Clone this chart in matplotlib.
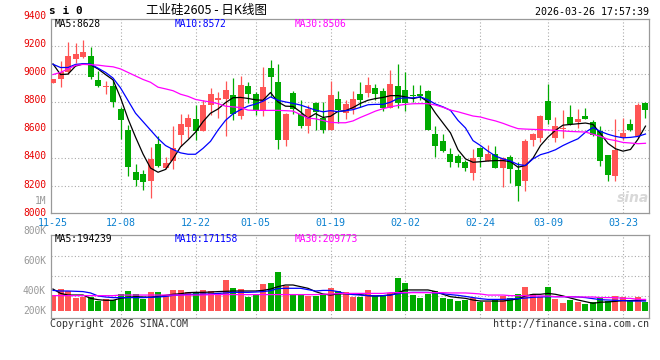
import matplotlib
matplotlib.use("Agg")
import matplotlib.pyplot as plt
import matplotlib.transforms as mtransforms
import numpy as np

# ---------------- data ----------------
dates = ["11-25", "11-26", "11-27", "11-28",
         "12-01", "12-02", "12-03", "12-04", "12-05", "12-08", "12-09", "12-10", "12-11", "12-12",
         "12-15", "12-16", "12-17", "12-18", "12-19", "12-22", "12-23", "12-24", "12-25", "12-26",
         "12-29", "12-30", "12-31",
         "01-05", "01-06", "01-07", "01-08", "01-09", "01-12", "01-13", "01-14", "01-15", "01-16",
         "01-19", "01-20", "01-21", "01-22", "01-23", "01-26", "01-27", "01-28", "01-29", "01-30",
         "02-02", "02-03", "02-04", "02-05", "02-06", "02-09", "02-10", "02-11", "02-12", "02-13",
         "02-24", "02-25", "02-26", "02-27",
         "03-02", "03-03", "03-04", "03-05", "03-06", "03-09", "03-10", "03-11", "03-12", "03-13",
         "03-16", "03-17", "03-18", "03-19", "03-20", "03-23", "03-24", "03-25", "03-26"]

tick_labels = ["11-25", "12-08", "12-22", "01-05", "01-19", "02-02", "02-24", "03-09", "03-23"]

opens = [8936, 8960, 9010, 9105, 9117, 9124, 8957, 8906, 8910, 8750,
         8598, 8305, 8290, 8236, 8502, 8329, 8379, 8564, 8621, 8681,
         8593, 8776, 8812, 8824, 8848, 8698, 8912, 8855, 8733, 9045,
         8941, 8531, 8867, 8717, 8626, 8793, 8688, 8598, 8819, 8722,
         8752, 8855, 8864, 8900, 8876, 8757, 8912, 8883, 8852, 8855,
         8879, 8569, 8519, 8431, 8417, 8376, 8293, 8476, 8379, 8433,
         8331, 8412, 8319, 8236, 8526, 8543, 8810, 8543, 8605, 8690,
         8655, 8703, 8660, 8595, 8425, 8270, 8553, 8640, 8558, 8790]
highs = [8966, 9090, 9226, 9220, 9243, 9190, 9021, 8950, 8957, 8762,
         8638, 8360, 8317, 8479, 8557, 8405, 8631, 8717, 8717, 8776,
         8812, 8902, 8869, 8948, 8967, 8983, 8943, 8870, 9050, 9098,
         9069, 8722, 8876, 8812, 8776, 8800, 8800, 8948, 8876, 8812,
         8876, 8943, 8979, 8931, 8900, 9026, 9069, 9014, 8920, 8924,
         8886, 8626, 8569, 8471, 8430, 8385, 8462, 8480, 8495, 8490,
         8412, 8420, 8376, 8538, 8580, 8710, 8925, 8690, 8745, 8775,
         8750, 8760, 8669, 8631, 8425, 8681, 8686, 8677, 8791, 8798]
lows = [8934, 8903, 9000, 9076, 9112, 8962, 8905, 8855, 8767, 8538,
        8271, 8205, 8176, 8114, 8336, 8325, 8326, 8490, 8543, 8526,
        8590, 8710, 8686, 8555, 8674, 8679, 8793, 8710, 8698, 8836,
        8467, 8490, 8717, 8614, 8579, 8602, 8579, 8598, 8650, 8681,
        8717, 8764, 8836, 8812, 8733, 8757, 8760, 8733, 8800, 8817,
        8598, 8410, 8445, 8340, 8336, 8312, 8248, 8336, 8379, 8329,
        8193, 8221, 8098, 8164, 8490, 8514, 8640, 8514, 8545, 8633,
        8615, 8676, 8560, 8347, 8236, 8240, 8526, 8590, 8544, 8683]
closes = [8962, 9015, 9124, 9140, 9152, 8974, 8917, 8912, 8802, 8671,
          8336, 8243, 8229, 8391, 8343, 8367, 8469, 8645, 8688, 8593,
          8781, 8860, 8831, 8883, 8712, 8919, 8855, 8740, 8907, 8979,
          8531, 8717, 8748, 8626, 8752, 8729, 8598, 8848, 8740, 8783,
          8824, 8812, 8919, 8855, 8757, 8926, 8793, 8793, 8845, 8843,
          8598, 8490, 8450, 8371, 8364, 8329, 8400, 8407, 8433, 8329,
          8400, 8321, 8200, 8519, 8569, 8698, 8670, 8630, 8617, 8645,
          8680, 8680, 8563, 8378, 8283, 8460, 8580, 8604, 8775, 8740]

ma5 = [9070, 8995, 8998, 9055, 9070, 9065, 9035, 8995, 8957, 8830,
       8680, 8550, 8430, 8330, 8300, 8320, 8395, 8480, 8530, 8585,
       8660, 8720, 8750, 8795, 8830, 8832, 8825, 8815, 8812, 8867,
       8800, 8770, 8768, 8729, 8685, 8717, 8690, 8698, 8733, 8738,
       8760, 8790, 8812, 8824, 8832, 8845, 8845, 8836, 8824, 8836,
       8800, 8720, 8650, 8580, 8460, 8395, 8371, 8375, 8380, 8383,
       8383, 8375, 8336, 8348, 8400, 8490, 8550, 8598, 8635, 8640,
       8645, 8650, 8640, 8575, 8505, 8467, 8450, 8462, 8535, 8628]
ma10 = [9068, 9045, 9045, 9067, 9072, 9070, 9040, 9010, 8970, 8900,
        8810, 8720, 8660, 8600, 8540, 8490, 8462, 8438, 8428, 8428,
        8470, 8520, 8600, 8669, 8715, 8745, 8770, 8785, 8805, 8836,
        8812, 8800, 8790, 8778, 8760, 8742, 8730, 8738, 8731, 8738,
        8745, 8762, 8780, 8783, 8783, 8798, 8825, 8829, 8829, 8836,
        8815, 8785, 8765, 8740, 8669, 8615, 8525, 8490, 8450, 8415,
        8395, 8380, 8355, 8348, 8395, 8425, 8440, 8460, 8490, 8515,
        8538, 8585, 8618, 8590, 8570, 8555, 8545, 8548, 8555, 8572]
ma30 = [8995, 9010, 9035, 9060, 9067, 9065, 9062, 9055, 9050, 9035,
        9010, 8985, 8960, 8940, 8905, 8893, 8880, 8855, 8840, 8818,
        8808, 8800, 8788, 8770, 8765, 8760, 8742, 8740, 8740, 8740,
        8740, 8738, 8735, 8710, 8685, 8680, 8668, 8655, 8652, 8652,
        8665, 8690, 8712, 8735, 8752, 8765, 8775, 8783, 8787, 8788,
        8788, 8778, 8762, 8742, 8730, 8715, 8700, 8693, 8678, 8665,
        8648, 8628, 8610, 8607, 8605, 8603, 8601, 8598, 8594, 8590,
        8588, 8586, 8570, 8555, 8535, 8525, 8512, 8508, 8503, 8506]

# volume, in thousands (as on the volume axis)
volume = [371, 411, 400, 353, 358, 358, 331, 345, 336, 376,
          398, 376, 342, 391, 391, 365, 405, 405, 391, 391,
          405, 398, 382, 471, 420, 411, 358, 376, 445, 451,
          525, 433, 376, 380, 365, 365, 376, 418, 398, 394,
          358, 358, 405, 365, 365, 387, 485, 451, 371, 351,
          380, 398, 351, 345, 331, 338, 353, 327, 327, 342,
          365, 353, 378, 425, 378, 358, 425, 347, 318, 338,
          325, 311, 325, 353, 333, 365, 358, 331, 358, 325]
vol_ma5 = [411, 382, 371, 371, 371, 349, 340, 336, 336, 349,
           356, 360, 358, 356, 362, 369, 376, 380, 387, 389,
           389, 391, 394, 396, 398, 398, 398, 398, 402, 411,
           427, 438, 438, 427, 416, 394, 378, 371, 378, 380,
           380, 374, 367, 365, 367, 371, 387, 405, 405, 405,
           405, 394, 376, 360, 354, 349, 338, 331, 331, 331,
           331, 338, 345, 365, 376, 376, 382, 376, 365, 351,
           338, 327, 316, 323, 325, 329, 334, 334, 336, 338]
vol_ma10 = [402, 398, 398, 396, 394, 385, 365, 358, 354, 354,
            354, 354, 354, 356, 358, 362, 369, 371, 376, 376,
            378, 378, 382, 385, 389, 389, 389, 391, 394, 400,
            414, 416, 416, 416, 407, 398, 402, 402, 394, 380,
            374, 371, 367, 365, 367, 371, 380, 387, 389, 389,
            389, 385, 380, 374, 369, 362, 354, 347, 342, 342,
            342, 345, 347, 351, 356, 358, 360, 360, 360, 360,
            358, 354, 347, 340, 338, 336, 334, 331, 331, 331]
vol_ma30 = [367, 367, 367, 367, 367, 367, 367, 367, 367, 371,
            371, 371, 371, 371, 371, 371, 371, 371, 371, 371,
            371, 374, 374, 374, 374, 374, 374, 374, 374, 374,
            374, 374, 374, 374, 374, 374, 376, 378, 380, 382,
            382, 382, 382, 382, 382, 387, 387, 387, 387, 387,
            387, 387, 387, 385, 385, 385, 382, 378, 371, 371,
            371, 367, 367, 367, 365, 365, 365, 360, 360, 360,
            358, 358, 358, 354, 354, 354, 349, 349, 342, 342]

price_levels = [8000, 8200, 8400, 8600, 8800, 9000, 9200, 9400]
vol_label_values = [1000, 800, 600, 400, 267]
vol_label_texts = ["1M", "800K", "600K", "400K", "200K"]

header_price = ["MA5:8628", "MA10:8572", "MA30:8506"]
header_vol = ["MA5:194239", "MA10:171158", "MA30:209773"]

# ---------------- styling ----------------
RED = "#FF5555"
GREEN = "#00AA00"
LABEL_RED = "#E80000"
DATE_BLUE = "#0A80D0"
GRAY = "#999999"
GRID = "#AAAAAA"
MA_COLORS = ["#000000", "#0000FF", "#FF00FF"]
MONO = "DejaVu Sans Mono"
FS = 6.9

W, H = 660.0, 360.0


def rect(l, t, r, b):
    return [l / W, 1 - b / H, (r - l) / W, (b - t) / H]


fig = plt.figure(figsize=(6.6, 3.6), dpi=100)
fig.patch.set_facecolor("white")
ax = fig.add_axes(rect(50.7, 19, 649.3, 213.3))
axv = fig.add_axes(rect(50.7, 235, 649.3, 318.3))

n = len(closes)
x = np.arange(n)
o = np.array(opens, float)
c = np.array(closes, float)
cols = [RED if cc >= oo else GREEN for oo, cc in zip(o, c)]
tick_idx = [dates.index(t) for t in tick_labels]

for a in (ax, axv):
    a.set_xlim(-0.31, n - 0.49)
    for s in a.spines.values():
        s.set_color(GRAY)
        s.set_linewidth(0.9)
    a.tick_params(length=0)
    a.set_yticks([])
    for t in tick_idx[1:]:
        a.axvline(t, color=GRID, lw=0.8, ls=(0, (1, 2)), zorder=0)

# ---- price panel ----
ax.set_ylim(8008, 9390)
for lv in price_levels[1:-1]:
    ax.axhline(lv, color=GRID, lw=0.8, ls=(0, (1, 2)), zorder=0)
ax.vlines(x, lows, highs, colors=cols, lw=0.9, zorder=2)
body_bottom = np.minimum(o, c)
body_h = np.maximum(np.abs(c - o), 7)
ax.bar(x, body_h, bottom=body_bottom, width=0.8, color=cols, linewidth=0, zorder=3)
for series, col in zip((ma5, ma10, ma30), MA_COLORS):
    ax.plot(x, series, color=col, lw=0.9, zorder=4)

tr = mtransforms.offset_copy(ax.get_yaxis_transform(), fig=fig, x=0, y=1.8, units="dots")
for lv in price_levels:
    ax.text(-0.008, lv, str(lv), transform=tr, ha="right", va="center",
            color=LABEL_RED, fontsize=FS, family=MONO, clip_on=False)

ax.set_xticks(tick_idx)
ax.set_xticklabels(tick_labels, color=DATE_BLUE, fontsize=FS + 0.3, family=MONO)
ax.tick_params(axis="x", pad=3.2)

# ---- volume panel ----
vlo, vhi = 216.0, 771.3
axv.set_ylim(vlo, vhi)
axv.set_xticks([])
for frac in (0.27, 0.51, 0.75):
    axv.axhline(vlo + frac * (vhi - vlo), color=GRID, lw=0.8, ls=(0, (1, 2)), zorder=0)
vbase = 265
axv.bar(x, np.array(volume) - vbase, bottom=vbase, width=0.8, color=cols, linewidth=0, zorder=2)
for series, col in zip((vol_ma5, vol_ma10, vol_ma30), MA_COLORS):
    axv.plot(x, series, color=col, lw=0.9, zorder=4)
trv = axv.get_yaxis_transform()
for v, t in zip(vol_label_values, vol_label_texts):
    axv.text(-0.008, v, t, transform=trv, ha="right", va="center",
             color=GRAY, fontsize=FS, family=MONO, clip_on=False)

# ---- texts ----
for i, (t, col) in enumerate(zip(header_price, MA_COLORS)):
    fig.text((55 + 120 * i) / W, 1 - 24 / H, t, color=col, fontsize=FS, family=MONO,
             ha="left", va="center")
for i, (t, col) in enumerate(zip(header_vol, MA_COLORS)):
    fig.text((55 + 120 * i) / W, 1 - 238.5 / H, t, color=col, fontsize=FS, family=MONO,
             ha="left", va="center")

fig.text(49 / W, 1 - 11.5 / H, "s i 0", fontsize=8, fontweight="bold", family=MONO,
         ha="left", va="center", color="black")
fig.text(206.7 / W, 1 - 10.5 / H, "工业硅2605 - 日K线图", fontsize=9,
         family=["Noto Sans CJK SC", "DejaVu Sans"], ha="center", va="center", color="black")
fig.text(649.3 / W, 1 - 11.7 / H, "2026-03-26 17:57:39", fontsize=7.2, family=MONO,
         ha="right", va="center", color="black")
fig.text(50 / W, 1 - 324 / H, "Copyright 2026 SINA.COM", fontsize=7.2, family=MONO,
         ha="left", va="center", color="#333333")
fig.text(649.3 / W, 1 - 324 / H, "http://finance.sina.com.cn", fontsize=7.2, family=MONO,
         ha="right", va="center", color="#333333")
fig.text(633 / W, 1 - 198 / H, "sina", fontsize=10, fontstyle="italic", fontweight="bold",
         color="#D8D8D8", ha="center", va="center", zorder=1)

fig.savefig("out.png", dpi=100, facecolor="white")
